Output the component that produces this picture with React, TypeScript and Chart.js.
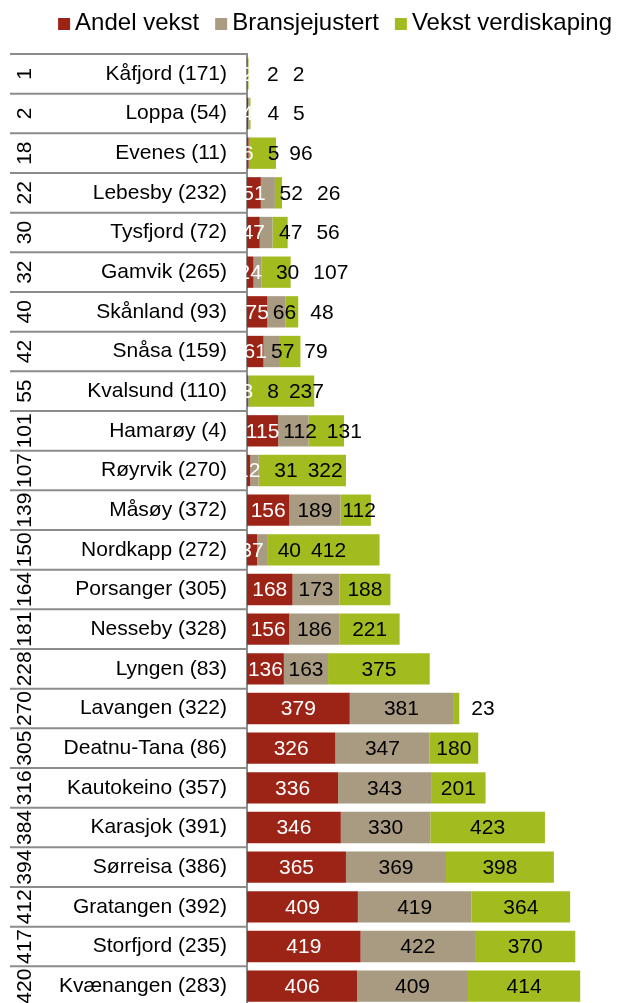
import React, { useEffect, useRef } from "react";
import { Chart, registerables } from "chart.js";

Chart.register(...registerables);

const ranks = ["1", "2", "18", "22", "30", "32", "40", "42", "55", "101", "107", "139", "150", "164", "181", "228", "270", "305", "316", "384", "394", "412", "417", "420"];
const names = [
  "Kåfjord (171)", "Loppa (54)", "Evenes (11)", "Lebesby (232)", "Tysfjord (72)", "Gamvik (265)",
  "Skånland (93)", "Snåsa (159)", "Kvalsund (110)", "Hamarøy (4)", "Røyrvik (270)", "Måsøy (372)",
  "Nordkapp (272)", "Porsanger (305)", "Nesseby (328)", "Lyngen (83)", "Lavangen (322)", "Deatnu-Tana (86)",
  "Kautokeino (357)", "Karasjok (391)", "Sørreisa (386)", "Gratangen (392)", "Storfjord (235)", "Kvænangen (283)",
];
const andelVekst = [2, 4, 6, 51, 47, 24, 75, 61, 3, 115, 12, 156, 37, 168, 156, 136, 379, 326, 336, 346, 365, 409, 419, 406];
const bransjejustert = [2, 4, 5, 52, 47, 30, 66, 57, 8, 112, 31, 189, 40, 173, 186, 163, 381, 347, 343, 330, 369, 419, 422, 409];
const vekstVerdiskaping = [2, 5, 96, 26, 56, 107, 48, 79, 237, 131, 322, 112, 412, 188, 221, 375, 23, 180, 201, 423, 398, 364, 370, 414];
const seriesNames = ["Andel vekst", "Bransjejustert", "Vekst verdiskaping"];

const COLORS = ["#9C2416", "#A89B82", "#A2BC1F"];
const FONT = '"Liberation Sans", Arial, Helvetica, sans-serif';

const tablePlugin = {
  id: "tablePlugin",
  beforeDatasetsDraw(chart: any) {
    const { ctx, chartArea } = chart;
    const n = chart.data.labels.length;
    const rowH = (chartArea.bottom - chartArea.top) / n;
    ctx.save();
    ctx.strokeStyle = "#8c8c8c";
    ctx.lineWidth = 2;
    for (let k = 0; k <= n; k++) {
      const y = chartArea.top + k * rowH;
      ctx.beginPath();
      ctx.moveTo(10, y);
      ctx.lineTo(chartArea.left, y);
      ctx.stroke();
    }
    ctx.fillStyle = "#000";
    ctx.font = `21px ${FONT}`;
    ctx.textAlign = "center";
    ctx.textBaseline = "middle";
    for (let i = 0; i < n; i++) {
      const cy = chartArea.top + (i + 0.5) * rowH;
      ctx.save();
      ctx.translate(24, cy);
      ctx.rotate(-Math.PI / 2);
      ctx.fillText(ranks[i], 0, 1);
      ctx.restore();
    }
    ctx.restore();
  },
};

const labelPlugin = {
  id: "labelPlugin",
  afterDatasetsDraw(chart: any) {
    const { ctx } = chart;
    const n = chart.data.labels.length;
    const last = chart.data.datasets.length - 1;
    ctx.save();
    ctx.font = `21px ${FONT}`;
    ctx.textAlign = "center";
    ctx.textBaseline = "middle";
    for (let i = 0; i < n; i++) {
      let prevRight = -Infinity;
      chart.data.datasets.forEach((ds: any, s: number) => {
        const el = chart.getDatasetMeta(s).data[i];
        const { x, y, base } = el.getProps(["x", "y", "base"], true);
        const left = Math.min(x, base);
        const right = Math.max(x, base);
        const w = right - left;
        const text = String(ds.data[i]);
        const tw = ctx.measureText(text).width;
        const center = (left + right) / 2;
        let cx = center;
        if (s > 0) {
          const fits = s === last ? w >= tw - 6 : w >= tw - 8;
          if (fits) {
            cx = Math.max(center, prevRight + (s === last ? 10 : 4) + tw / 2);
          } else if (s === last) {
            cx = Math.max(center, prevRight + 14 + tw / 2, right + 12 + tw / 2);
          } else {
            cx = Math.max(center, prevRight + 14 + tw / 2);
          }
        }
        ctx.fillStyle = s === 0 ? "#ffffff" : "#000000";
        ctx.fillText(text, cx, y + 1);
        prevRight = cx + tw / 2;
      });
    }
    ctx.restore();
  },
};

const legendPlugin = {
  id: "customLegend",
  afterDraw(chart: any) {
    const { ctx } = chart;
    ctx.save();
    ctx.font = `24px ${FONT}`;
    ctx.textBaseline = "middle";
    ctx.textAlign = "left";
    const box = 12;
    const boxGap = 5;
    const itemGap = 16;
    const items = chart.data.datasets.map((d: any) => ({ text: d.label, color: d.backgroundColor, w: ctx.measureText(d.label).width }));
    const total = items.reduce((a: number, it: any) => a + box + boxGap + it.w, 0) + itemGap * (items.length - 1);
    let x = 612 - total;
    items.forEach((it: any) => {
      ctx.fillStyle = it.color;
      ctx.fillRect(x, 18, box, box);
      ctx.fillStyle = "#000";
      ctx.fillText(it.text, x + box + boxGap, 23);
      x += box + boxGap + it.w + itemGap;
    });
    ctx.restore();
  },
};

export default function App() {
  const ref = useRef<HTMLCanvasElement>(null);
  useEffect(() => {
    Chart.defaults.font.family = FONT;
    const seriesData = [andelVekst, bransjejustert, vekstVerdiskaping];
    const chart = new Chart(ref.current as HTMLCanvasElement, {
      type: "bar",
      data: {
        labels: names,
        datasets: seriesData.map((d, s) => ({
          label: seriesNames[s],
          data: d,
          backgroundColor: COLORS[s],
          borderWidth: 0,
          barPercentage: 0.79,
          categoryPercentage: 1,
        })),
      },
      options: {
        indexAxis: "y",
        animation: false,
        responsive: false,
        events: [],
        layout: { padding: { left: 10, right: 5, top: 54, bottom: 4 } },
        scales: {
          x: { stacked: true, min: 0, max: 1350, display: false },
          y: {
            stacked: true,
            grid: { display: false, drawTicks: false },
            border: { display: true, color: "#8c8c8c", width: 2 },
            ticks: { color: "#000", font: { size: 21 }, padding: 20, autoSkip: false },
            afterFit: (s: any) => {
              s.width = 237;
              s.paddingTop = 0;
              s.paddingBottom = 0;
            },
          },
        },
        plugins: { legend: { display: false }, tooltip: { enabled: false } },
      },
      plugins: [tablePlugin, labelPlugin, legendPlugin],
    } as any);
    return () => chart.destroy();
  }, []);
  return (
    <div style={{ position: "absolute", left: 0, top: 0, width: 618, height: 1003, overflow: "hidden", background: "#fff" }}>
      <canvas ref={ref} width={618} height={1010} style={{ display: "block" }} />
    </div>
  );
}
